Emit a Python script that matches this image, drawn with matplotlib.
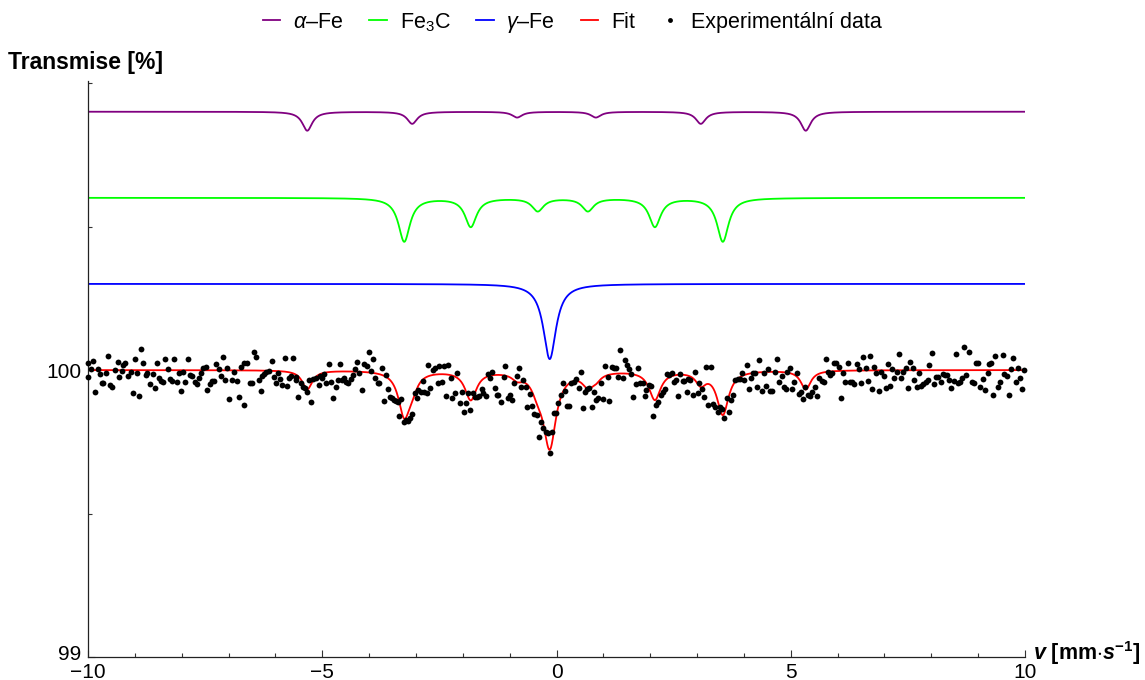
import numpy as np
import matplotlib
matplotlib.use("Agg")
import matplotlib.pyplot as plt
import matplotlib.transforms as mtransforms
from matplotlib.ticker import MultipleLocator, FixedLocator
from matplotlib.lines import Line2D

plt.rcParams['font.family'] = ['Liberation Sans', 'DejaVu Sans']
plt.rcParams['mathtext.fontset'] = 'custom'
plt.rcParams['mathtext.rm'] = 'Liberation Sans'
plt.rcParams['mathtext.it'] = 'Liberation Sans:italic'
plt.rcParams['mathtext.bf'] = 'Liberation Sans:bold'
plt.rcParams['mathtext.bfit'] = 'Liberation Sans:italic:bold'

# fitted sub-spectra (Lorentzian lines): positions [mm/s], depths [%], FWHM, vertical offset
alpha_pos = [-5.32, -3.08, -0.84, 0.84, 3.08, 5.32]
alpha_depth = [0.066, 0.042, 0.020, 0.020, 0.042, 0.066]
alpha_width = 0.26
alpha_offset = 0.9

fe3c_pos = [-3.25, -1.83, -0.40, 0.67, 2.10, 3.55]
fe3c_depth = [0.152, 0.100, 0.045, 0.045, 0.100, 0.152]
fe3c_width = 0.30
fe3c_offset = 0.6

gamma_pos = [-0.145]
gamma_depth = [0.262]
gamma_width = 0.33
gamma_offset = 0.3

# experimental points (velocity, transmission)
data_v = [
    -10.0, -9.99, -9.94, -9.89, -9.85, -9.79, -9.74, -9.71, -9.67, -9.62, -9.57, -9.53, -9.48, -9.42, -9.37,
    -9.33, -9.28, -9.25, -9.20, -9.14, -9.09, -9.05, -9.00, -8.95, -8.91, -8.87, -8.82, -8.77, -8.73, -8.67,
    -8.62, -8.58, -8.53, -8.48, -8.44, -8.39, -8.35, -8.29, -8.25, -8.20, -8.16, -8.11, -8.06, -8.01, -7.97,
    -7.92, -7.87, -7.82, -7.77, -7.72, -7.68, -7.63, -7.59, -7.54, -7.49, -7.45, -7.40, -7.36, -7.31, -7.26,
    -7.20, -7.16, -7.11, -7.08, -7.03, -6.98, -6.93, -6.88, -6.83, -6.78, -6.73, -6.68, -6.66,
    -6.60, -6.54, -6.49, -6.46, -6.41, -6.36, -6.31, -6.28, -6.24, -6.19, -6.14, -6.08, -6.04, -5.99, -5.94,
    -5.90, -5.85, -5.80, -5.76, -5.71, -5.67, -5.62, -5.57, -5.55, -5.51, -5.46, -5.42, -5.37, -5.33, -5.28,
    -5.23, -5.19, -5.13, -5.08, -5.04, -5.00, -4.96, -4.91, -4.86, -4.81, -4.76, -4.71, -4.67, -4.62, -4.58,
    -4.54, -4.49, -4.44, -4.39, -4.35, -4.30, -4.25, -4.22, -4.15, -4.10, -4.05, -4.01, -3.96, -3.91, -3.87,
    -3.82, -3.78, -3.73, -3.68, -3.64, -3.59, -3.55, -3.51, -3.47, -3.43, -3.38, -3.36,
    -3.31, -3.26, -3.21, -3.16, -3.12, -3.08, -3.03, -2.98, -2.95, -2.90, -2.86, -2.82, -2.77, -2.74, -2.69,
    -2.64, -2.59, -2.54, -2.50, -2.45, -2.40, -2.36, -2.31, -2.26, -2.22, -2.17, -2.12, -2.07, -2.02, -1.98,
    -1.93, -1.88, -1.84, -1.79, -1.74, -1.70, -1.65, -1.60, -1.56, -1.51, -1.47, -1.42, -1.37, -1.32, -1.28,
    -1.24, -1.185, -1.13, -1.09, -1.04, -0.99, -0.94, -0.90, -0.85, -0.80, -0.76, -0.71, -0.66, -0.62, -0.57,
    -0.52, -0.47, -0.42, -0.37, -0.33, -0.28, -0.23, -0.19, -0.14, -0.09, -0.05,
    -0.01, 0.04, 0.09, 0.13, 0.18, 0.23, 0.27, 0.32, 0.37, 0.42, 0.47, 0.52, 0.56, 0.61, 0.66,
    0.70, 0.75, 0.80, 0.84, 0.89, 0.94, 0.99, 1.04, 1.09, 1.13, 1.18, 1.23, 1.27, 1.32, 1.36,
    1.41, 1.46, 1.51, 1.55, 1.60, 1.64, 1.70, 1.74, 1.78, 1.84, 1.89, 1.92, 1.97, 2.02, 2.07,
    2.12, 2.17, 2.22, 2.27, 2.32, 2.35, 2.41, 2.46, 2.51, 2.55, 2.59, 2.64, 2.69, 2.73, 2.78,
    2.81, 2.86, 2.91, 2.96, 3.01, 3.05, 3.10, 3.15, 3.19, 3.24,
    3.30, 3.35, 3.38, 3.44, 3.49, 3.54, 3.58, 3.63, 3.68, 3.72, 3.77, 3.82, 3.87, 3.92, 3.97,
    4.01, 4.06, 4.10, 4.15, 4.20, 4.24, 4.29, 4.33, 4.38, 4.43, 4.47, 4.52, 4.56, 4.61, 4.66,
    4.71, 4.75, 4.81, 4.85, 4.89, 4.93, 4.98, 5.03, 5.08, 5.13, 5.18, 5.22, 5.27, 5.30, 5.36,
    5.41, 5.46, 5.52, 5.55, 5.60, 5.66, 5.70, 5.75, 5.79, 5.84, 5.89, 5.93, 5.97, 6.02, 6.07,
    6.11, 6.16, 6.22, 6.27, 6.31, 6.36, 6.41, 6.46, 6.50, 6.55,
    6.60, 6.64, 6.69, 6.74, 6.78, 6.83, 6.88, 6.93, 6.98, 7.03, 7.07, 7.12, 7.17, 7.21, 7.26,
    7.31, 7.35, 7.40, 7.45, 7.50, 7.55, 7.60, 7.64, 7.69, 7.74, 7.78, 7.83, 7.88, 7.92, 7.96,
    8.01, 8.06, 8.10, 8.15, 8.20, 8.24, 8.29, 8.34, 8.38, 8.43, 8.48, 8.53, 8.58, 8.61, 8.66,
    8.70, 8.75, 8.81, 8.86, 8.91, 8.95, 9.00, 9.05, 9.10, 9.15, 9.20, 9.24, 9.27, 9.32, 9.37,
    9.42, 9.47, 9.52, 9.56, 9.61, 9.66, 9.70, 9.75, 9.80, 9.84, 9.89, 9.94, 9.98,
]
data_t = [
    100.023, 99.977, 100.003, 100.033, 99.925, 100.002, 99.986, 99.954, 99.954, 99.991, 100.049, 99.948, 99.942, 100.000, 100.029,
    99.977, 99.998, 100.017, 100.026, 99.980, 99.994, 99.919, 100.039, 99.988, 99.909, 100.074, 100.026, 99.983, 99.991, 99.951,
    99.985, 99.936, 100.026, 99.971, 99.963, 99.959, 100.039, 100.005, 99.969, 99.962, 100.037, 99.957, 99.991, 99.928, 99.992,
    99.957, 100.037, 99.983, 99.980, 99.957, 99.950, 99.971, 99.988, 100.007, 100.009, 99.930, 99.951, 99.963, 99.962, 100.022,
    100.003, 99.979, 100.044, 99.964, 100.008, 99.900, 99.964, 99.992, 99.963, 99.905, 100.009, 100.023, 99.878,
    100.023, 99.954, 99.956, 100.063, 100.046, 99.965, 99.928, 99.980, 99.986, 99.994, 99.998, 100.031, 99.977, 99.954, 99.988,
    99.969, 99.948, 100.041, 99.945, 99.971, 99.979, 100.041, 99.965, 99.977, 99.905, 99.956, 99.940, 99.936, 99.925, 99.965,
    99.890, 99.967, 99.971, 99.948, 99.979, 99.973, 99.985, 99.956, 100.021, 99.959, 99.901, 99.942, 99.965, 100.020, 99.965,
    99.971, 99.959, 99.954, 99.969, 99.983, 100.003, 100.028, 99.988, 99.930, 100.020, 100.015, 100.062, 99.998, 100.037, 99.971,
    99.954, 99.954, 100.006, 99.892, 99.981, 99.934, 99.907, 99.901, 99.895, 99.893, 99.890, 99.840,
    99.899, 99.820, 99.826, 99.823, 99.832, 99.847, 99.919, 99.901, 99.930, 99.925, 99.962, 99.925, 99.919, 100.016, 99.936,
    100.000, 100.006, 99.954, 100.015, 99.959, 100.014, 99.911, 100.017, 99.971, 99.904, 99.919, 99.988, 99.886, 99.925, 99.853,
    99.884, 99.919, 99.861, 99.919, 99.907, 99.907, 99.909, 99.933, 99.919, 99.909, 99.986, 99.971, 99.992, 99.938, 99.913,
    99.913, 99.890, 99.977, 100.015, 99.901, 99.913, 99.895, 99.956, 99.980, 100.006, 99.940, 99.965, 99.940, 99.870, 99.916,
    99.875, 99.847, 99.843, 99.768, 99.820, 99.797, 99.785, 99.779, 99.710, 99.785, 99.849,
    99.851, 99.886, 99.913, 99.954, 99.927, 99.875, 99.875, 99.954, 99.959, 99.967, 99.936, 99.992, 99.869, 99.925, 99.933,
    99.938, 99.872, 99.925, 99.895, 99.904, 99.956, 99.899, 100.014, 99.977, 99.892, 100.009, 100.008, 100.006, 99.977, 100.070,
    99.971, 100.035, 100.016, 100.002, 99.985, 99.907, 99.951, 100.008, 99.956, 99.954, 99.911, 99.930, 99.948, 99.944, 99.841,
    99.878, 99.890, 99.913, 99.925, 99.933, 99.985, 99.983, 99.988, 99.959, 99.965, 99.911, 99.986, 99.963, 99.962, 99.925,
    99.969, 99.965, 99.913, 99.994, 99.919, 99.954, 99.933, 99.905, 100.009, 99.878,
    100.012, 99.882, 99.872, 99.855, 99.870, 99.864, 99.834, 99.901, 99.855, 99.895, 99.913, 99.965, 99.967, 99.967, 99.988,
    99.965, 100.017, 99.934, 99.971, 99.988, 99.988, 99.940, 100.035, 99.927, 99.988, 99.944, 100.002, 99.928, 99.928, 99.994,
    100.038, 99.957, 99.979, 99.940, 99.934, 99.994, 100.006, 99.933, 99.957, 99.988, 99.916, 99.925, 99.899, 99.940, 99.913,
    99.911, 99.925, 99.940, 99.911, 99.971, 99.963, 99.957, 100.037, 99.994, 99.983, 99.988, 100.023, 100.023, 100.012, 99.901,
    99.988, 99.959, 100.023, 99.959, 99.959, 99.951, 100.021, 100.002, 99.956, 100.046,
    100.008, 99.962, 100.049, 99.933, 100.012, 99.991, 99.928, 99.994, 99.979, 99.936, 100.020, 99.945, 100.002, 99.973, 99.994,
    100.055, 99.971, 99.994, 100.006, 99.936, 100.029, 100.006, 99.965, 99.942, 99.991, 99.944, 99.951, 99.959, 99.965, 100.017,
    100.060, 99.951, 99.977, 99.977, 99.957, 99.986, 99.983, 99.983, 99.965, 99.938, 99.963, 100.055, 99.956, 99.959, 99.971,
    100.081, 99.983, 100.064, 99.957, 99.956, 100.026, 100.026, 99.942, 99.969, 99.930, 99.991, 100.020, 100.023, 99.913, 100.049,
    99.942, 99.959, 100.051, 99.985, 99.979, 99.912, 100.002, 100.043, 99.957, 100.008, 99.971, 99.933, 100.000,
]


def lorentz(v, pos, depth, width):
    out = np.zeros_like(v)
    for p, d in zip(pos, depth):
        out += d / (1 + ((v - p) / (width / 2)) ** 2)
    return out


v = np.linspace(-10, 10, 4001)
a_abs = lorentz(v, alpha_pos, alpha_depth, alpha_width)
c_abs = lorentz(v, fe3c_pos, fe3c_depth, fe3c_width)
g_abs = lorentz(v, gamma_pos, gamma_depth, gamma_width)
fit = 100 - a_abs - c_abs - g_abs

fig = plt.figure(figsize=(11.45, 6.8), dpi=100)
ax = fig.add_axes([88 / 1145, 23 / 680, 937 / 1145, 576 / 680])

purple = (0.5, 0.0, 0.5)
ax.plot(v, 100 + alpha_offset - a_abs, color=purple, lw=1.3)
ax.plot(v, 100 + fe3c_offset - c_abs, color=(0, 1, 0), lw=1.3)
ax.plot(v, 100 + gamma_offset - g_abs, color=(0, 0, 1), lw=1.3)
ax.plot(v, fit, color=(1, 0, 0), lw=1.3, zorder=2)
ax.plot(data_v, data_t, 'o', color='black', ms=4.2, mew=0, zorder=3, clip_on=False)

ax.set_xlim(-10, 10)
ax.set_ylim(99, 101.007)
ax.spines['top'].set_visible(False)
ax.spines['right'].set_visible(False)
for s in ['left', 'bottom']:
    ax.spines[s].set_linewidth(0.9)
    ax.spines[s].set_color('#222222')

ax.xaxis.set_major_locator(MultipleLocator(5))
ax.xaxis.set_minor_locator(MultipleLocator(1))
ax.yaxis.set_major_locator(FixedLocator([99, 100]))
ax.yaxis.set_minor_locator(FixedLocator([99.5, 100.5, 101]))
ax.tick_params(which='both', direction='in', labelsize=15, color='#333333', width=0.8)
ax.tick_params(which='major', length=5)
ax.tick_params(which='minor', length=3)
ax.tick_params(axis='x', pad=4)
ax.tick_params(axis='y', pad=5)

# lift the "99" label a little so it sits just above the "-10" label
fig.canvas.draw()
lab99 = ax.yaxis.get_majorticklabels()[0]
lab99.set_transform(lab99.get_transform() +
                    mtransforms.ScaledTranslation(0, 3 / 72, fig.dpi_scale_trans))

fig.text(0.007, 1 - 62 / 680, 'Transmise [%]', fontsize=16.5, fontweight='bold',
         ha='left', va='center')
ax.annotate(r'$\mathbfit{v}\ \mathbf{[mm{\cdot}}\mathbfit{s}^{\mathbf{-1}}\mathbf{]}$',
            xy=(1, 0), xycoords='axes fraction', xytext=(6, 3), textcoords='offset points',
            ha='left', va='center', fontsize=15.5)

handles = [
    Line2D([], [], color=purple, lw=1.3),
    Line2D([], [], color=(0, 1, 0), lw=1.3),
    Line2D([], [], color=(0, 0, 1), lw=1.3),
    Line2D([], [], color=(1, 0, 0), lw=1.3),
    Line2D([], [], ls='', marker='o', color='black', ms=3.5, mew=0),
]
labels = [r'$\alpha$–Fe', r'Fe$_3$C', r'$\gamma$–Fe', 'Fit', 'Experimentální data']
fig.legend(handles, labels, loc='center', bbox_to_anchor=(0.5, 1 - 23 / 680), ncol=5,
           frameon=False, fontsize=15.5, handlelength=0.8, handletextpad=0.6,
           columnspacing=1.2)

fig.savefig('out.png', dpi=100)
